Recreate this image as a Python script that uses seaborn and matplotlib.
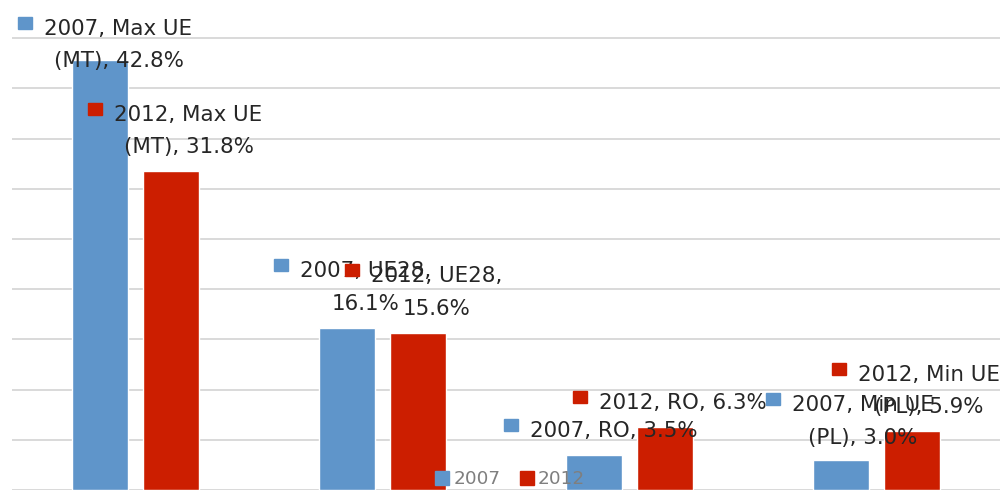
import textwrap
import matplotlib
matplotlib.use("Agg")
import matplotlib.pyplot as plt
import seaborn as sns
import pandas as pd
from matplotlib.patches import Rectangle
from matplotlib.lines import Line2D

# ---- data ----
categories = ["Max UE (MT)", "UE28", "RO", "Min UE (PL)"]
years = ["2007", "2012"]
values_2007 = [42.8, 16.1, 3.5, 3.0]
values_2012 = [31.8, 15.6, 6.3, 5.9]

# ---- style ----
colors = ["#5F95CA", "#CC1E00"]
wrap_widths = [13, 13, 30, 13]
label_offsets = {  # pixels from bar top-centre to label centre
    "2007": [(18, 15.5), (18, 41), (19, 24), (21, 38.5)],
    "2012": [(18, 39.5), (19, 41), (18, 24), (17, 40)],
}
FONT = ["DejaVu Sans"]
FS = 15.4
TXT = "#262626"

sns.set_theme(style="white")
plt.rcParams["font.family"] = FONT

df = pd.DataFrame({
    "cat": categories * 2,
    "year": [years[0]] * 4 + [years[1]] * 4,
    "val": values_2007 + values_2012,
})

fig = plt.figure(figsize=(10.05, 4.91), dpi=100)
ax = fig.add_axes([12 / 1005, 1 / 491, 988 / 1005, 490 / 491])

sns.barplot(data=df, x="cat", y="val", hue="year", palette=colors,
            width=0.567, gap=0.2, ax=ax, legend=False, saturation=1,
            zorder=3)

ax.set_ylim(0, 48.8)
ax.set_yticks(range(0, 50, 5))
ax.yaxis.grid(True, color="#D9D9D9", lw=1.4, zorder=0)
ax.set_axisbelow(True)
ax.tick_params(labelleft=False, labelbottom=False, length=0)
ax.set_xlabel("")
ax.set_ylabel("")
for s in ax.spines.values():
    s.set_visible(False)

texts = []
for yi, (yr, cont) in enumerate(zip(years, ax.containers)):
    vals = values_2007 if yi == 0 else values_2012
    for ci, (bar, v) in enumerate(zip(cont, vals)):
        xc = bar.get_x() + bar.get_width() / 2
        lab = "\n".join(textwrap.wrap(f"{yr}, {categories[ci]}, {v:.1f}%",
                                      wrap_widths[ci]))
        dx, dy = label_offsets[yr][ci]
        t = ax.annotate(lab, xy=(xc, v), xytext=(dx, dy),
                        textcoords="offset pixels", ha="center", va="center",
                        ma="center", fontsize=FS, linespacing=1.78, color=TXT,
                        annotation_clip=False, zorder=5)
        texts.append((t, lab, colors[yi]))

fig.canvas.draw()
renderer = fig.canvas.get_renderer()
inv = fig.transFigure.inverted()
EM = FS * 100 / 72
MW, MH = 14, 12
for t, lab, col in texts:
    bb = t.get_window_extent(renderer)
    lines = lab.split("\n")
    tmp = fig.text(0, 0, lines[0], fontsize=FS)
    w1 = tmp.get_window_extent(renderer).width
    tmp.remove()
    cy = bb.y1 - 0.40 * EM + 4.5
    left1 = (bb.x0 + bb.x1) / 2 - w1 / 2
    x1 = left1 - 12
    p0 = inv.transform((x1 - MW, cy - MH / 2))
    p1 = inv.transform((x1, cy + MH / 2))
    fig.add_artist(Rectangle(p0, p1[0] - p0[0], p1[1] - p0[1],
                             transform=fig.transFigure, color=col, zorder=6))

handles = [Line2D([], [], marker="s", ls="", color=c, markersize=9.5)
           for c in colors]
fig.legend(handles, years, loc="center", bbox_to_anchor=(510 / 1005, 12 / 491),
           ncol=2, frameon=False, fontsize=13.3, handletextpad=0.2,
           columnspacing=1.0, handlelength=0.8, labelcolor="#7F7F7F")

fig.savefig("out.png", dpi=100)
